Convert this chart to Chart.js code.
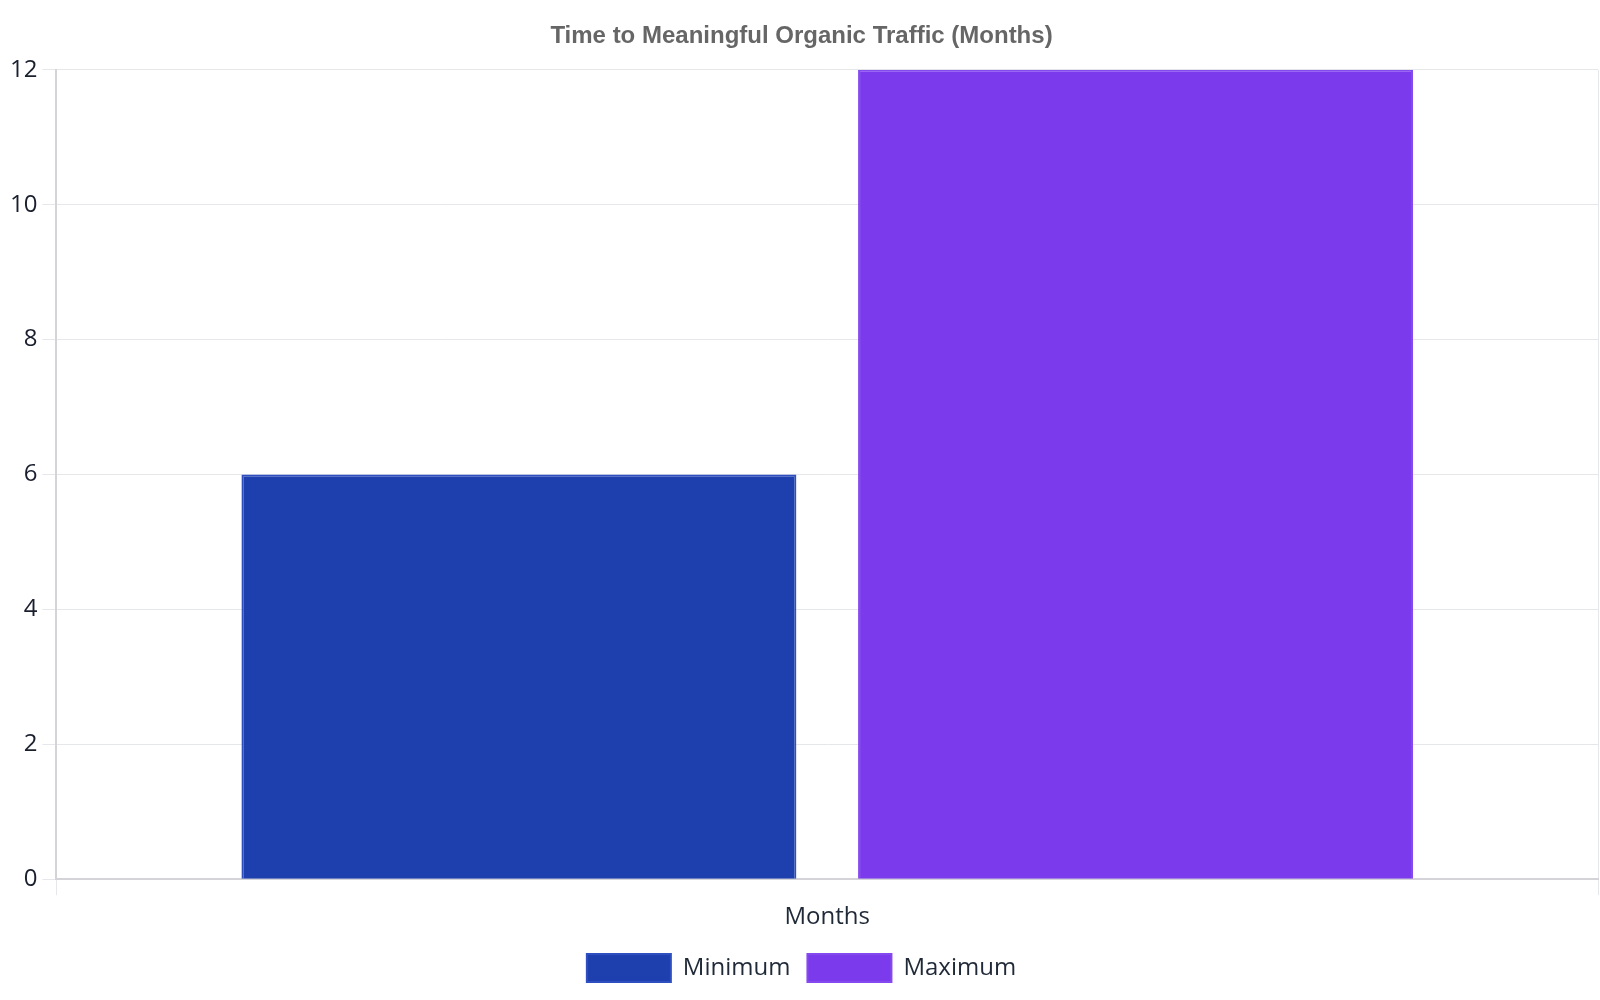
<!DOCTYPE html>
<html>
<head>
<meta charset="utf-8">
<script src="https://cdn.jsdelivr.net/npm/chart.js@4.4.0/dist/chart.umd.min.js"></script>
<style>
  html, body { margin: 0; padding: 0; background: #fff; }
  #wrap { width: 1600px; height: 1000px; position: relative; }
</style>
</head>
<body>
<div id="wrap"><canvas id="chart"></canvas></div>
<script>
// data
const categories = ["Months"];
const seriesNames = ["Minimum", "Maximum"];
const minimumValues = [6];
const maximumValues = [12];
const yTicks = [0, 2, 4, 6, 8, 10, 12];

const fillColors = ["#1e40af", "#7c3aed"];
const edgeColors = ["#2f4fc0", "#8549f0"];

Chart.defaults.font.family = "'Open Sans', sans-serif";
Chart.defaults.color = "#1f2937";

const ctx = document.getElementById("chart");

new Chart(ctx, {
  type: "bar",
  data: {
    labels: categories,
    datasets: [
      {
        label: seriesNames[0],
        data: minimumValues,
        backgroundColor: fillColors[0],
        borderColor: edgeColors[0],
        borderWidth: 2,
      },
      {
        label: seriesNames[1],
        data: maximumValues,
        backgroundColor: fillColors[1],
        borderColor: edgeColors[1],
        borderWidth: 2,
      },
    ],
  },
  options: {
    responsive: true,
    maintainAspectRatio: false,
    animation: false,
    layout: { padding: { left: 5, right: 2, top: 0, bottom: 8 } },
    plugins: {
      title: {
        display: true,
        text: "Time to Meaningful Organic Traffic (Months)",
        color: "#666666",
        font: { family: "'Liberation Sans', Arial, sans-serif", size: 24, weight: "bold" },
        padding: { top: 22, bottom: 19 },
      },
      legend: {
        position: "bottom",
        labels: {
          boxWidth: 84,
          boxHeight: 28,
          font: { size: 24 },
          color: "#1f2937",
          padding: 17,
        },
      },
      tooltip: { enabled: false },
    },
    scales: {
      x: {
        grid: { color: "#e5e7eb", tickLength: 16 },
        border: { color: "#d4d4d8", width: 2 },
        ticks: { display: false },
        title: {
          display: true,
          text: categories[0],
          font: { size: 24 },
          color: "#1f2937",
          padding: { top: 8, bottom: 5 },
        },
      },
      y: {
        min: yTicks[0],
        max: yTicks[yTicks.length - 1],
        afterBuildTicks: (axis) => {
          axis.ticks = yTicks.map((v) => ({ value: v }));
        },
        grid: { color: "#e5e7eb", tickLength: 14 },
        border: { color: "#d4d4d8", width: 2 },
        ticks: { font: { size: 24 }, color: "#1a1f2e", padding: 5 },
      },
    },
  },
});
</script>
</body>
</html>
